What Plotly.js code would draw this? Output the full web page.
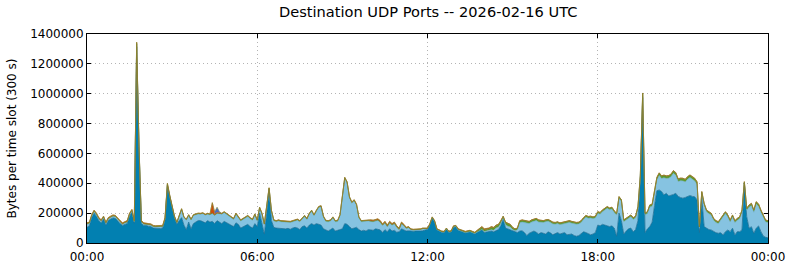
<!DOCTYPE html>
<html>
<head>
<meta charset="utf-8">
<script src="https://cdn.plot.ly/plotly-3.0.1.min.js"></script>
<style>html,body{margin:0;padding:0;background:#fff;}#chart{width:790px;height:267px;}</style>
</head>
<body>
<div id="chart"></div>
<script>
// Values in thousands of bytes per 300 s slot, one value per 5-minute slot (00:00 .. 24:00)
const darkBlue = [
105,115,170,200,180,150,135,160,120,150,160,168,
165,145,130,118,125,130,180,205,132,1315,625,130,
118,118,112,110,100,98,97,97,100,150,385,300,
240,170,125,150,170,120,90,140,95,130,140,150,
150,145,135,150,140,145,130,150,140,130,145,135,
130,120,110,135,125,100,110,115,125,110,100,130,
110,200,120,60,200,345,150,105,100,98,100,95,
95,98,92,100,105,100,90,110,115,100,120,130,
120,130,125,120,95,85,80,90,100,80,85,90,
95,130,125,110,95,100,105,90,80,85,80,90,
90,85,95,92,88,70,90,75,95,80,85,72,
75,95,85,80,82,78,78,80,78,80,82,85,
92,122,168,140,88,80,72,70,92,72,74,105,
108,85,80,75,68,72,75,68,62,72,80,88,
70,72,75,80,75,85,90,115,160,100,95,85,
85,75,70,80,82,70,50,65,75,80,72,60,
70,65,60,75,68,55,62,70,60,65,70,55,
55,60,50,45,50,65,75,70,60,55,60,70,
120,115,125,120,115,110,115,100,45,200,150,60,
80,95,100,75,90,150,420,975,70,95,110,140,
250,350,355,345,322,333,315,318,325,333,312,305,
300,305,310,318,312,310,290,70,300,110,100,90,
87,76,69,65,69,54,76,87,76,99,54,76,
76,87,400,176,99,109,65,99,114,76,47,38,
35];
const lightBlue = [
21,16,11,11,11,11,11,11,11,11,11,11,
11,11,9,6,9,9,11,11,10,19,16,11,
8,8,9,9,9,9,9,9,9,11,6,11,
4,4,9,34,54,49,64,44,59,54,49,44,
43,52,52,43,49,52,54,47,56,63,59,58,
50,48,47,57,47,47,47,52,52,52,52,57,
37,32,72,62,42,17,62,42,42,49,42,45,
47,42,45,42,42,52,52,52,62,57,72,82,
62,82,112,122,77,59,62,57,67,62,59,92,
217,302,277,192,172,182,147,77,62,59,62,57,
54,57,52,59,51,47,44,34,39,39,44,32,
14,34,31,17,20,10,8,7,8,9,12,9,
2,2,1,4,1,2,2,2,2,2,2,4,
4,3,2,2,1,1,1,1,1,1,3,3,
7,8,7,9,10,15,16,16,9,22,17,22,
5,7,17,55,58,67,83,65,65,67,78,80,
68,73,83,71,70,73,64,60,63,61,58,75,
83,73,78,81,78,73,83,103,106,113,103,98,
78,78,85,101,117,113,113,103,143,99,128,83,
73,73,76,83,78,82,18,13,118,103,131,106,
92,72,97,87,115,99,119,126,142,121,100,112,
116,104,117,120,115,106,102,29,32,143,108,107,
99,76,68,65,83,128,121,88,65,76,83,76,
87,121,3,44,141,142,141,163,133,130,121,103,
102];
const orange = [
6,6,6,6,6,6,6,6,6,6,6,6,
6,6,8,8,8,8,6,6,5,8,6,6,
6,6,6,6,6,6,6,6,6,6,6,6,
3,3,3,3,3,3,3,3,3,3,3,3,
3,3,3,3,3,70,8,5,3,3,3,3,
3,3,3,3,3,3,3,3,3,3,3,3,
3,3,3,3,3,3,3,3,3,3,3,3,
3,3,3,3,3,3,3,3,3,3,3,3,
3,3,3,3,3,3,3,3,3,3,3,3,
3,3,3,3,3,3,3,3,3,3,3,3,
8,8,8,8,8,8,8,8,8,8,8,8,
8,8,6,5,5,4,3,3,3,3,3,3,
3,3,3,3,3,3,3,3,3,3,3,3,
3,3,3,3,3,3,3,3,3,4,5,5,
8,8,6,6,5,5,4,4,3,3,3,3,
3,3,3,3,3,3,3,3,3,3,3,3,
2,2,2,2,2,2,2,2,2,2,2,2,
2,2,2,2,2,2,2,2,2,2,2,2,
2,2,2,2,2,2,2,2,2,2,2,2,
2,2,2,2,2,2,2,2,2,2,2,2,
3,3,3,3,3,3,3,3,3,3,3,3,
3,3,3,3,3,3,3,3,3,3,3,3,
3,3,3,3,3,3,3,3,3,3,3,3,
3,3,3,3,3,3,3,3,3,3,3,3,
3];
const violet = [
0,0,0,0,0,0,0,0,0,0,0,0,
0,0,0,0,0,0,0,0,0,0,0,0,
0,0,0,0,0,0,0,0,0,0,0,0,
0,0,0,0,0,0,0,0,0,0,0,0,
0,0,0,0,0,0,15,35,8,0,0,0,
0,0,0,0,0,0,0,0,0,0,0,0,
0,0,0,0,0,0,0,0,0,0,0,0,
0,0,0,0,0,0,0,0,0,0,0,0,
0,0,0,0,0,0,0,0,0,0,0,0,
0,0,0,0,0,0,0,0,0,0,0,0,
0,0,0,0,0,0,0,0,0,0,0,0,
0,0,0,0,0,0,0,0,0,0,0,0,
0,0,0,0,0,0,0,0,0,0,0,0,
0,0,0,0,0,0,0,0,0,0,0,0,
0,0,0,0,0,0,0,0,0,0,0,0,
0,0,0,0,0,0,0,0,0,0,0,0,
0,0,0,0,0,0,0,0,0,0,0,0,
0,0,0,0,0,0,0,0,0,0,0,0,
0,0,0,0,0,0,0,0,0,0,0,0,
0,0,0,0,0,0,0,0,0,0,0,0,
0,0,0,0,0,0,0,0,0,0,0,0,
0,0,0,0,0,0,0,0,0,0,0,0,
0,0,0,0,0,0,0,0,0,0,0,0,
0,0,0,0,0,0,0,0,0,0,0,0,
0];
const green = [
3,3,3,3,3,3,3,3,3,3,3,3,
3,3,3,3,3,3,3,3,3,3,3,3,
3,3,3,3,3,3,3,3,3,3,3,3,
3,3,3,3,3,3,3,3,3,3,3,3,
3,3,3,3,3,3,3,3,3,3,3,3,
5,5,5,5,5,5,5,5,5,5,5,5,
5,5,5,5,5,5,5,5,5,5,5,5,
5,5,5,5,5,5,5,5,5,5,5,5,
5,5,5,5,5,5,5,5,5,5,5,5,
5,5,5,5,5,5,5,5,5,5,5,5,
3,3,3,3,3,3,3,3,3,3,3,3,
3,3,3,3,3,3,3,3,3,3,3,3,
3,3,3,3,3,3,3,3,3,3,3,3,
3,4,5,5,6,6,6,6,6,8,12,14,
10,10,12,15,15,15,15,15,8,15,15,15,
12,10,10,12,12,12,12,12,12,12,12,12,
10,10,10,10,10,10,10,10,10,10,10,10,
10,10,10,10,10,10,10,10,10,10,10,10,
10,10,10,10,10,10,10,10,10,10,10,10,
10,10,10,10,10,10,10,15,10,10,12,12,
15,15,15,15,15,15,15,15,15,15,15,15,
15,15,15,15,15,15,15,8,10,10,10,10,
10,10,10,10,10,10,10,10,10,10,10,10,
10,10,5,10,12,12,12,12,12,12,10,10,
10];
const UNIT = 1000; // arrays above are in thousands of bytes
const xTickLabels = ['00:00','06:00','12:00','18:00','00:00'];

// time slots: every 300 s starting at 2026-02-16 00:00
const start = Date.UTC(2026,1,16,0,0,0);
function fmt(ms){const d=new Date(ms);const p=n=>String(n).padStart(2,'0');
  return d.getUTCFullYear()+'-'+p(d.getUTCMonth()+1)+'-'+p(d.getUTCDate())+' '+p(d.getUTCHours())+':'+p(d.getUTCMinutes());}
const times = darkBlue.map((_,i)=>fmt(start+i*300000));
const tickVals = xTickLabels.map((_,i)=>fmt(start+i*6*3600000));

function layer(name, vals, fillc, linec, w){
  return {type:'scatter', mode:'lines', name:name, x:times, y:vals.map(v=>v*UNIT),
    stackgroup:'one', fillcolor:fillc, line:{color:linec, width:w, shape:'linear'}, hoverinfo:'skip'};
}
const traces = [
  layer('dark', darkBlue, '#0280b1', '#1c6f95', 0.8),
  layer('light', lightBlue, '#86c3e1', '#6aa9c8', 0.6),
  layer('green', green, '#5c9a2c', '#5a8a2a', 0.6),
  layer('orange', orange, '#d04a08', '#c0600e', 0.6),
  layer('violet', violet, '#4a6cc4', '#7d8a35', 0.6)
];
const gridDash = '1px,3px';
const layout = {
  width:790, height:267, showlegend:false,
  paper_bgcolor:'#ffffff', plot_bgcolor:'#ffffff',
  margin:{l:87, r:22, t:34, b:24, pad:0},
  font:{family:'DejaVu Sans, sans-serif', size:12, color:'#000'},
  title:{text:'Destination UDP Ports -- 2026-02-16 UTC', x:0.542, xanchor:'center', y:0.955, yanchor:'middle',
    font:{family:'DejaVu Sans, sans-serif', size:14.6, color:'#000'}},
  xaxis:{type:'date', range:[tickVals[0], tickVals[4]], tickvals:tickVals, ticktext:xTickLabels,
    ticks:'inside', ticklen:4, tickcolor:'#000', mirror:'allticks', showline:true, linecolor:'#000', linewidth:1,
    showgrid:true, gridcolor:'#b4b4b4', griddash:gridDash, gridwidth:1, zeroline:false, ticklabelstandoff:3,
    tickfont:{family:'DejaVu Sans, sans-serif', size:12}, fixedrange:true},
  yaxis:{range:[0,1400000], dtick:200000, tick0:0, tickformat:'d',
    ticks:'inside', ticklen:4, tickcolor:'#000', mirror:'allticks', showline:true, linecolor:'#000', linewidth:1,
    showgrid:true, gridcolor:'#b4b4b4', griddash:gridDash, gridwidth:1, zeroline:false,
    tickfont:{family:'DejaVu Sans, sans-serif', size:12},
    title:{text:'Bytes per time slot (300 s)', font:{family:'DejaVu Sans, sans-serif', size:12}, standoff:10}, fixedrange:true}
};
Plotly.newPlot('chart', traces, layout, {displayModeBar:false, staticPlot:true});
</script>
</body>
</html>
